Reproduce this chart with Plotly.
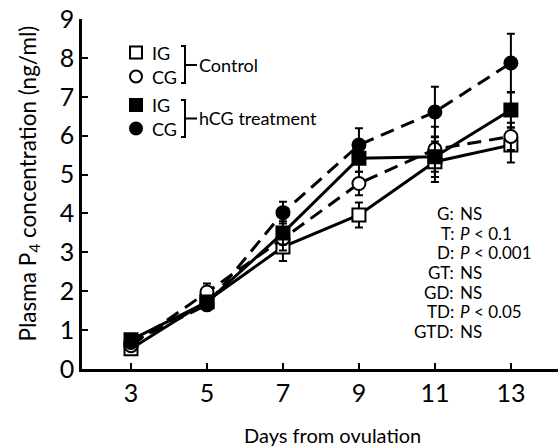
import plotly.graph_objects as go

# ---- data ----
days = [3, 5, 7, 9, 11, 13]

control_ig = [0.52, 1.75, 3.14, 3.96, 5.33, 5.76]
control_ig_se = [0.10, 0.15, 0.36, 0.32, 0.52, 0.45]

control_cg = [0.60, 1.98, 3.35, 4.77, 5.65, 5.98]
control_cg_se = [0.10, 0.22, 0.30, 0.30, 0.58, 0.35]

hcg_ig = [0.75, 1.72, 3.50, 5.42, 5.46, 6.66]
hcg_ig_se = [0.10, 0.15, 0.30, 0.35, 0.52, 0.45]

hcg_cg = [0.68, 1.65, 4.02, 5.76, 6.61, 7.87]
hcg_cg_se = [0.10, 0.10, 0.28, 0.43, 0.65, 0.75]

x_ticks = [3, 5, 7, 9, 11, 13]
y_ticks = [0, 1, 2, 3, 4, 5, 6, 7, 8, 9]

stat_terms = ["G:", "T:", "D:", "GT:", "GD:", "TD:", "GTD:"]
stat_values = ["NS", "<i>P</i> < 0.1", "<i>P</i> < 0.001", "NS", "NS",
               "<i>P</i> < 0.05", "NS"]

# ---- layout geometry ----
W, H = 558, 448
ML, MR, MT, MB = 82, 0, 19, 79
PW, PH = W - ML - MR, H - MT - MB
FONT = "Lato"


def px(xp):
    return (xp - ML) / PW


def py(yp):
    return (H - MB - yp) / PH


fig = go.Figure()


def add_series(y, se, symbol, dash, fill):
    fig.add_trace(go.Scatter(
        x=days, y=y, mode="lines+markers",
        line=dict(color="black", width=3, dash=dash),
        marker=dict(symbol=symbol, size=13, color=fill,
                    line=dict(color="black", width=2)),
        error_y=dict(type="data", array=se, visible=True, color="black",
                     thickness=2, width=4),
        showlegend=False, cliponaxis=False, hoverinfo="skip",
    ))


add_series(control_ig, control_ig_se, "square", "solid", "white")
add_series(control_cg, control_cg_se, "circle", "14px,8px", "white")
add_series(hcg_ig, hcg_ig_se, "square", "solid", "black")
add_series(hcg_cg, hcg_cg_se, "circle", "14px,8px", "black")

shapes = []
annotations = []

# legend markers
leg_x = 136
half = 6
for yc, kind, fill in [(52.5, "rect", "white"), (76.5, "circle", "white"),
                       (105, "rect", "black"), (128.5, "circle", "black")]:
    shapes.append(dict(type=kind, xref="paper", yref="paper",
                       x0=px(leg_x - half), x1=px(leg_x + half),
                       y0=py(yc + half), y1=py(yc - half),
                       line=dict(color="black", width=2), fillcolor=fill))

for yc, label in [(52.5, "IG"), (76.5, "CG"), (105, "IG"), (128.5, "CG")]:
    annotations.append(dict(xref="paper", yref="paper", x=px(150), y=py(yc),
                            xanchor="left", yanchor="middle", text=label,
                            showarrow=False,
                            font=dict(family=FONT, size=18, color="black")))

# brackets
for top, bot, mid, label in [(46, 83, 65, "Control"),
                             (100, 137, 118.5, "hCG treatment")]:
    bx = 185
    path = (f"M {px(bx-4)},{py(top)} L {px(bx)},{py(top)} "
            f"L {px(bx)},{py(bot)} L {px(bx-4)},{py(bot)} "
            f"M {px(bx)},{py(mid)} L {px(bx+12)},{py(mid)}")
    shapes.append(dict(type="path", xref="paper", yref="paper", path=path,
                       line=dict(color="black", width=2)))
    annotations.append(dict(xref="paper", yref="paper", x=px(197), y=py(mid),
                            xanchor="left", yanchor="middle", text=label,
                            showarrow=False,
                            font=dict(family=FONT, size=18, color="black")))

# statistics
for i, (term, val) in enumerate(zip(stat_terms, stat_values)):
    yc = 213.3 + i * 19.7
    annotations.append(dict(xref="paper", yref="paper", x=px(456), y=py(yc),
                            xanchor="right", yanchor="middle", text=term,
                            showarrow=False,
                            font=dict(family=FONT, size=17, color="black")))
    annotations.append(dict(xref="paper", yref="paper", x=px(458), y=py(yc),
                            xanchor="left", yanchor="middle", text=val,
                            showarrow=False,
                            font=dict(family=FONT, size=17, color="black")))

# axis titles
annotations.append(dict(xref="paper", yref="paper", x=px(28), y=py(183.5),
                        xanchor="center", yanchor="middle", textangle=-90,
                        text="Plasma P<sub>4</sub> concentration (ng/ml)",
                        showarrow=False,
                        font=dict(family=FONT, size=22.5, color="black")))
annotations.append(dict(xref="paper", yref="paper", x=px(332), y=py(435),
                        xanchor="center", yanchor="middle",
                        text="Days from ovulation", showarrow=False,
                        font=dict(family=FONT, size=20, color="black")))

fig.update_layout(
    width=W, height=H,
    margin=dict(l=ML, r=MR, t=MT, b=MB, autoexpand=False),
    paper_bgcolor="white", plot_bgcolor="white",
    shapes=shapes, annotations=annotations,
    font=dict(family=FONT, color="black"),
)
fig.update_xaxes(range=[1.71, 14.24], tickvals=x_ticks,
                 ticktext=[str(v) for v in x_ticks],
                 ticks="inside", ticklen=6, tickwidth=2, tickcolor="black",
                 showline=True, linecolor="black", linewidth=2.5,
                 showgrid=False, zeroline=False,
                 tickfont=dict(family=FONT, size=25, color="black"))
fig.update_yaxes(range=[0, 9], tickvals=y_ticks,
                 ticktext=[str(v) for v in y_ticks],
                 ticks="inside", ticklen=6, tickwidth=2, tickcolor="black",
                 showline=True, linecolor="black", linewidth=2.5,
                 showgrid=False, zeroline=False,
                 tickfont=dict(family=FONT, size=25, color="black"))

fig.write_html(
    "out.html",
    config={"displayModeBar": False},
    post_script="document.body.style.margin='0px';"
                "document.body.style.overflow='hidden';",
)
